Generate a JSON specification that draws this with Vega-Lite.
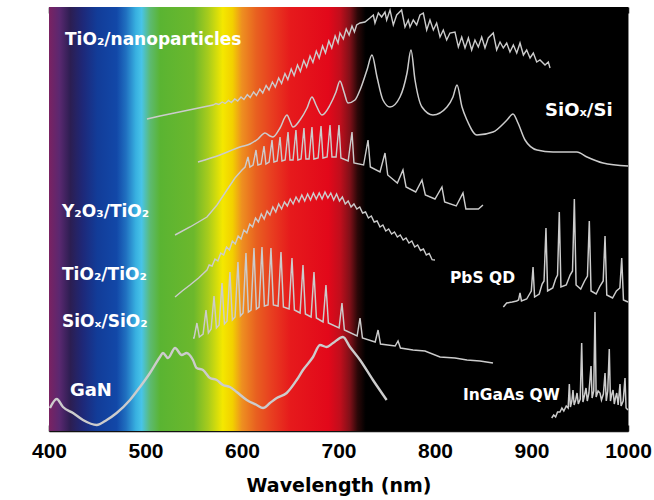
{
  "$schema": "https://vega.github.io/schema/vega-lite/v6.json",
  "width": 579,
  "height": 424,
  "autosize": {"type": "none"},
  "padding": {"left": 49, "top": 7, "right": 26, "bottom": 69},
  "background": "white",
  "config": {"view": {"stroke": "#888888", "strokeWidth": 1}},
  "datasets": {
    "traces": [
      {"s":"A","x":501.5,"y":312},{"s":"A","x":515,"y":315},{"s":"A","x":530,"y":318},{"s":"A","x":545,"y":321},{"s":"A","x":560,"y":324},{"s":"A","x":570,"y":326},
      {"s":"A","x":573,"y":327.5},{"s":"A","x":576,"y":326.5},{"s":"A","x":579.5,"y":329},{"s":"A","x":582.5,"y":327.5},{"s":"A","x":586,"y":330.5},{"s":"A","x":589,"y":328.5},{"s":"A","x":592.5,"y":332},{"s":"A","x":595.5,"y":330},{"s":"A","x":599,"y":334},{"s":"A","x":602,"y":331.5},{"s":"A","x":605.5,"y":336.5},{"s":"A","x":608.5,"y":333.5},{"s":"A","x":612,"y":339},{"s":"A","x":615,"y":335.5},{"s":"A","x":618.5,"y":342},{"s":"A","x":621.5,"y":338},{"s":"A","x":625,"y":345.5},{"s":"A","x":628,"y":341},{"s":"A","x":631.5,"y":349},{"s":"A","x":634.5,"y":344},{"s":"A","x":638,"y":353},{"s":"A","x":641,"y":347.5},{"s":"A","x":644.5,"y":357.5},{"s":"A","x":647.5,"y":351.5},{"s":"A","x":651,"y":362},{"s":"A","x":654,"y":355.5},{"s":"A","x":657.5,"y":366},{"s":"A","x":660.5,"y":359.5},{"s":"A","x":664,"y":370.5},{"s":"A","x":667,"y":364},{"s":"A","x":670.5,"y":375},{"s":"A","x":673.5,"y":368.5},{"s":"A","x":677,"y":380},{"s":"A","x":680,"y":373},{"s":"A","x":683.5,"y":385},{"s":"A","x":686.5,"y":378},{"s":"A","x":690,"y":390},{"s":"A","x":693,"y":383},{"s":"A","x":696.5,"y":395},{"s":"A","x":699.5,"y":388},
      {"s":"A","x":701.5,"y":398},{"s":"A","x":705,"y":392},{"s":"A","x":708,"y":402},{"s":"A","x":711,"y":396},{"s":"A","x":714,"y":405},{"s":"A","x":716.5,"y":399},{"s":"A","x":718.8,"y":406},{"s":"A","x":722.3,"y":408},{"s":"A","x":727.4,"y":409},{"s":"A","x":732.6,"y":413},{"s":"A","x":736.1,"y":416},{"s":"A","x":737.8,"y":408},{"s":"A","x":741.3,"y":418},{"s":"A","x":744.7,"y":414},{"s":"A","x":748.2,"y":419},{"s":"A","x":749.9,"y":411},{"s":"A","x":753.4,"y":421},{"s":"A","x":756.8,"y":406},{"s":"A","x":760.3,"y":416},{"s":"A","x":765.4,"y":421},{"s":"A","x":768.9,"y":404},{"s":"A","x":772.3,"y":411},{"s":"A","x":774.1,"y":404},{"s":"A","x":777.5,"y":411},{"s":"A","x":781,"y":406},{"s":"A","x":784.4,"y":416},{"s":"A","x":787.9,"y":418},{"s":"A","x":791.4,"y":401},{"s":"A","x":794.8,"y":411},{"s":"A","x":798.3,"y":401},{"s":"A","x":801.7,"y":408},{"s":"A","x":805.2,"y":394},{"s":"A","x":808.6,"y":401},{"s":"A","x":812.1,"y":391},{"s":"A","x":815.5,"y":398},{"s":"A","x":820.7,"y":399},{"s":"A","x":824.2,"y":384},{"s":"A","x":827.7,"y":394},{"s":"A","x":831.1,"y":383},{"s":"A","x":834.6,"y":393},{"s":"A","x":838,"y":381},{"s":"A","x":841.4,"y":391},{"s":"A","x":844.9,"y":384},{"s":"A","x":848.4,"y":394},{"s":"A","x":851.8,"y":383},{"s":"A","x":855.2,"y":393},{"s":"A","x":860.4,"y":398},{"s":"A","x":863.9,"y":381},{"s":"A","x":867.4,"y":389},{"s":"A","x":870.8,"y":383},{"s":"A","x":874.3,"y":388},{"s":"A","x":877.7,"y":379},{"s":"A","x":881.2,"y":386},{"s":"A","x":884.7,"y":378},{"s":"A","x":888.1,"y":388},{"s":"A","x":891.6,"y":376},{"s":"A","x":895,"y":381},{"s":"A","x":898.5,"y":373},{"s":"A","x":901.9,"y":378},{"s":"A","x":905.4,"y":369},{"s":"A","x":908.8,"y":371},{"s":"A","x":914,"y":366},{"s":"A","x":917.4,"y":369},{"s":"A","x":919.2,"y":363},

      {"s":"B","x":554.4,"y":269},{"s":"B","x":577.2,"y":276},{"s":"B","x":597.9,"y":284},{"s":"B","x":608.3,"y":287},{"s":"B","x":616.6,"y":292},{"s":"B","x":623.8,"y":298},{"s":"B","x":629,"y":295},{"s":"B","x":632.1,"y":294},{"s":"B","x":639.4,"y":303},{"s":"B","x":646.6,"y":316},{"s":"B","x":649.7,"y":310},{"s":"B","x":652.8,"y":304},{"s":"B","x":660.1,"y":311},{"s":"B","x":667.4,"y":323},{"s":"B","x":672.5,"y":334},{"s":"B","x":676.7,"y":326},{"s":"B","x":682.9,"y":316},{"s":"B","x":691.2,"y":326},{"s":"B","x":697.4,"y":339},{"s":"B","x":701.5,"y":350},{"s":"B","x":705.7,"y":339},{"s":"B","x":709.8,"y":328},{"s":"B","x":717.1,"y":331},{"s":"B","x":722.3,"y":341},{"s":"B","x":729.5,"y":361},{"s":"B","x":734.7,"y":376},{"s":"B","x":739.9,"y":354},{"s":"B","x":746.1,"y":331},{"s":"B","x":753.4,"y":324},{"s":"B","x":763.7,"y":334},{"s":"B","x":771,"y":358},{"s":"B","x":775.1,"y":381},{"s":"B","x":779.3,"y":351},{"s":"B","x":786.5,"y":324},{"s":"B","x":797.9,"y":316},{"s":"B","x":812.4,"y":324},{"s":"B","x":818.6,"y":334},{"s":"B","x":822.8,"y":346},{"s":"B","x":828,"y":324},{"s":"B","x":833.1,"y":311},{"s":"B","x":843.5,"y":296},{"s":"B","x":860.1,"y":299},{"s":"B","x":874.6,"y":311},{"s":"B","x":880.8,"y":317},{"s":"B","x":886,"y":308},{"s":"B","x":893.3,"y":291},{"s":"B","x":905.7,"y":281},{"s":"B","x":922.3,"y":279},{"s":"B","x":947.1,"y":279},{"s":"B","x":957.5,"y":274},{"s":"B","x":974.1,"y":268},{"s":"B","x":1000,"y":265},

      {"s":"C","x":530.6,"y":196},{"s":"C","x":546.1,"y":204},{"s":"C","x":563.7,"y":214},{"s":"C","x":574.1,"y":226},{"s":"C","x":584.4,"y":241},{"s":"C","x":592.7,"y":253},{"s":"C","x":600,"y":261},
      {"s":"C","x":603.2,"y":264},{"s":"C","x":606.2,"y":274},{"s":"C","x":608.2,"y":264},
      {"s":"C","x":611.5,"y":266},{"s":"C","x":614.5,"y":281},{"s":"C","x":616.5,"y":266},
      {"s":"C","x":619.8,"y":267},{"s":"C","x":622.8,"y":285},{"s":"C","x":624.8,"y":267},
      {"s":"C","x":628.1,"y":269},{"s":"C","x":631.1,"y":291},{"s":"C","x":633.1,"y":269},
      {"s":"C","x":636.4,"y":270},{"s":"C","x":639.4,"y":294},{"s":"C","x":641.4,"y":270},
      {"s":"C","x":644.7,"y":271},{"s":"C","x":647.7,"y":299},{"s":"C","x":649.7,"y":271},
      {"s":"C","x":652.9,"y":271},{"s":"C","x":655.9,"y":301},{"s":"C","x":657.9,"y":271},
      {"s":"C","x":661.2,"y":272},{"s":"C","x":664.2,"y":303},{"s":"C","x":666.2,"y":272},
      {"s":"C","x":669.5,"y":272},{"s":"C","x":672.5,"y":304},{"s":"C","x":674.5,"y":272},
      {"s":"C","x":678.9,"y":273},{"s":"C","x":681.9,"y":305},{"s":"C","x":683.9,"y":273},
      {"s":"C","x":688.2,"y":274},{"s":"C","x":691.2,"y":306},{"s":"C","x":693.2,"y":274},
      {"s":"C","x":697.5,"y":274},{"s":"C","x":700.5,"y":306},{"s":"C","x":702.5,"y":273},
      {"s":"C","x":710,"y":270},{"s":"C","x":714,"y":299},{"s":"C","x":716,"y":268},
      {"s":"C","x":726,"y":266},{"s":"C","x":730.6,"y":291},{"s":"C","x":733,"y":264},
      {"s":"C","x":743,"y":259},{"s":"C","x":748.2,"y":278},{"s":"C","x":751,"y":256},
      {"s":"C","x":761,"y":248},{"s":"C","x":766.8,"y":261},{"s":"C","x":770,"y":244},
      {"s":"C","x":780,"y":239},{"s":"C","x":786.5,"y":251},{"s":"C","x":790,"y":236},
      {"s":"C","x":800,"y":232},{"s":"C","x":807.2,"y":244},{"s":"C","x":810,"y":229},
      {"s":"C","x":822,"y":225},{"s":"C","x":829,"y":238},{"s":"C","x":832,"y":222},
      {"s":"C","x":845,"y":222},{"s":"C","x":849.7,"y":226},

      {"s":"D","x":530.6,"y":134},{"s":"D","x":538,"y":140},{"s":"D","x":546.1,"y":146},{"s":"D","x":555,"y":153},{"s":"D","x":563.7,"y":161},
      {"s":"D","x":566,"y":166},{"s":"D","x":569,"y":165},{"s":"D","x":572,"y":172},{"s":"D","x":575,"y":170},{"s":"D","x":578,"y":178},{"s":"D","x":581,"y":176},{"s":"D","x":584,"y":184},{"s":"D","x":587,"y":181},{"s":"D","x":590,"y":190},{"s":"D","x":593,"y":187},{"s":"D","x":596,"y":195},{"s":"D","x":599,"y":192},{"s":"D","x":602,"y":201},{"s":"D","x":605,"y":198},{"s":"D","x":608,"y":207},{"s":"D","x":611,"y":204},{"s":"D","x":614,"y":213},{"s":"D","x":617,"y":209},{"s":"D","x":620,"y":217},{"s":"D","x":623,"y":212},{"s":"D","x":626,"y":220},{"s":"D","x":629,"y":216},{"s":"D","x":632,"y":224},{"s":"D","x":635,"y":219},{"s":"D","x":638,"y":227},{"s":"D","x":641,"y":222},{"s":"D","x":644,"y":229},{"s":"D","x":647,"y":225},{"s":"D","x":650,"y":232},{"s":"D","x":653,"y":227},{"s":"D","x":656,"y":234},{"s":"D","x":659,"y":229},{"s":"D","x":662,"y":236},{"s":"D","x":665,"y":230},{"s":"D","x":668,"y":237},{"s":"D","x":671,"y":231},{"s":"D","x":674,"y":238},{"s":"D","x":677,"y":232},{"s":"D","x":680,"y":238},{"s":"D","x":683,"y":232},{"s":"D","x":686,"y":239},{"s":"D","x":689,"y":233},{"s":"D","x":692,"y":238},{"s":"D","x":695,"y":231},{"s":"D","x":698,"y":237},{"s":"D","x":701,"y":230},{"s":"D","x":704,"y":234},{"s":"D","x":707,"y":227},{"s":"D","x":710,"y":230},{"s":"D","x":713,"y":224},{"s":"D","x":716,"y":227},{"s":"D","x":719,"y":222},{"s":"D","x":722,"y":224},{"s":"D","x":725,"y":218},{"s":"D","x":728,"y":219},{"s":"D","x":731,"y":213},{"s":"D","x":734,"y":215},{"s":"D","x":737,"y":209},{"s":"D","x":740,"y":210},{"s":"D","x":743,"y":204},{"s":"D","x":746,"y":206},{"s":"D","x":749,"y":200},{"s":"D","x":752,"y":202},{"s":"D","x":755,"y":197},{"s":"D","x":758,"y":199},{"s":"D","x":761,"y":194},{"s":"D","x":764,"y":196},{"s":"D","x":767,"y":191},{"s":"D","x":770,"y":193},{"s":"D","x":773,"y":188},{"s":"D","x":776,"y":190},{"s":"D","x":779,"y":184},{"s":"D","x":782,"y":186},{"s":"D","x":785,"y":180.5},{"s":"D","x":788,"y":182},{"s":"D","x":791,"y":176},{"s":"D","x":794,"y":177.6},{"s":"D","x":797,"y":171.3},{"s":"D","x":800,"y":171},

      {"s":"E","x":549.2,"y":93},
      {"s":"E","x":550.3,"y":93},{"s":"E","x":553.3,"y":108},{"s":"E","x":555.8,"y":94},
      {"s":"E","x":559.7,"y":97},{"s":"E","x":562.7,"y":121},{"s":"E","x":565.2,"y":98},
      {"s":"E","x":568,"y":102},{"s":"E","x":571,"y":135},{"s":"E","x":573.5,"y":103},
      {"s":"E","x":576.3,"y":106},{"s":"E","x":579.3,"y":148},{"s":"E","x":581.8,"y":107},
      {"s":"E","x":584.5,"y":110},{"s":"E","x":587.5,"y":159},{"s":"E","x":590,"y":111},
      {"s":"E","x":592.8,"y":114},{"s":"E","x":595.8,"y":169},{"s":"E","x":598.3,"y":115},
      {"s":"E","x":601.1,"y":118},{"s":"E","x":604.1,"y":178},{"s":"E","x":606.6,"y":119},
      {"s":"E","x":609.4,"y":121},{"s":"E","x":612.4,"y":183},{"s":"E","x":614.9,"y":122},
      {"s":"E","x":617.7,"y":124},{"s":"E","x":620.7,"y":184},{"s":"E","x":623.2,"y":125},
      {"s":"E","x":627,"y":126},{"s":"E","x":630,"y":183},{"s":"E","x":632.5,"y":126},
      {"s":"E","x":637.4,"y":125},{"s":"E","x":640.4,"y":179},{"s":"E","x":642.9,"y":124},
      {"s":"E","x":648.8,"y":122},{"s":"E","x":651.8,"y":173},{"s":"E","x":654.3,"y":121},
      {"s":"E","x":660.2,"y":118},{"s":"E","x":663.2,"y":166},{"s":"E","x":665.7,"y":117},
      {"s":"E","x":671.6,"y":114},{"s":"E","x":674.6,"y":159},{"s":"E","x":677.1,"y":113},
      {"s":"E","x":684,"y":109},{"s":"E","x":687,"y":146},{"s":"E","x":689.5,"y":108},
      {"s":"E","x":700.6,"y":103},{"s":"E","x":703.6,"y":128},{"s":"E","x":706.1,"y":101},
      {"s":"E","x":719.3,"y":95},{"s":"E","x":722.3,"y":113},{"s":"E","x":724.8,"y":93},
      {"s":"E","x":738,"y":89},{"s":"E","x":741,"y":101},{"s":"E","x":743.5,"y":87},
      {"s":"E","x":758.7,"y":85},{"s":"E","x":761.7,"y":90},{"s":"E","x":764.2,"y":83},
      {"s":"E","x":777.2,"y":81},{"s":"E","x":789.6,"y":80},{"s":"E","x":805.2,"y":74},{"s":"E","x":820.7,"y":73},{"s":"E","x":833.1,"y":71},{"s":"E","x":846.6,"y":70},{"s":"E","x":860.1,"y":68},

      {"s":"F","x":401,"y":23},{"s":"F","x":408,"y":32},{"s":"F","x":414.5,"y":24},{"s":"F","x":424.9,"y":18},{"s":"F","x":435.2,"y":11},{"s":"F","x":449.4,"y":6},{"s":"F","x":459.8,"y":11},{"s":"F","x":470.1,"y":18},{"s":"F","x":483.9,"y":31},{"s":"F","x":494.3,"y":44},{"s":"F","x":504.6,"y":58},{"s":"F","x":515,"y":74},{"s":"F","x":518.1,"y":78},{"s":"F","x":523.3,"y":73},{"s":"F","x":530.6,"y":83},{"s":"F","x":537.5,"y":76},{"s":"F","x":542.7,"y":78},{"s":"F","x":549.2,"y":71},{"s":"F","x":553,"y":63},{"s":"F","x":559.6,"y":61},{"s":"F","x":566.8,"y":53},{"s":"F","x":573.8,"y":51},{"s":"F","x":580.3,"y":46},{"s":"F","x":587.5,"y":44},{"s":"F","x":594.5,"y":39},{"s":"F","x":604.9,"y":31},{"s":"F","x":615.2,"y":26},{"s":"F","x":621.8,"y":23},{"s":"F","x":629,"y":28},{"s":"F","x":636,"y":33},{"s":"F","x":646.3,"y":38},{"s":"F","x":656.7,"y":51},{"s":"F","x":663.2,"y":61},{"s":"F","x":673.6,"y":74},{"s":"F","x":680.8,"y":86},{"s":"F","x":687.8,"y":84},{"s":"F","x":694.3,"y":88},{"s":"F","x":704.6,"y":94},{"s":"F","x":711.9,"y":84},{"s":"F","x":722.3,"y":71},{"s":"F","x":735.7,"y":51},{"s":"F","x":749.9,"y":31},

      {"s":"G","x":870.8,"y":124},{"s":"G","x":874.3,"y":128},{"s":"G","x":880,"y":129},{"s":"G","x":884.6,"y":130},{"s":"G","x":886.6,"y":131},{"s":"G","x":888.1,"y":138},{"s":"G","x":889.6,"y":130},{"s":"G","x":895,"y":132},{"s":"G","x":898,"y":137},{"s":"G","x":899.8,"y":140},{"s":"G","x":901.6,"y":164},{"s":"G","x":903.2,"y":134},{"s":"G","x":908,"y":137},{"s":"G","x":911,"y":147},{"s":"G","x":913,"y":150},{"s":"G","x":915,"y":203},{"s":"G","x":916.7,"y":140},{"s":"G","x":922,"y":143},{"s":"G","x":925,"y":152},{"s":"G","x":927,"y":156},{"s":"G","x":928.8,"y":219},{"s":"G","x":930.5,"y":144},{"s":"G","x":936,"y":146},{"s":"G","x":940,"y":156},{"s":"G","x":942.5,"y":160},{"s":"G","x":944.4,"y":232},{"s":"G","x":946.2,"y":146},{"s":"G","x":951,"y":142},{"s":"G","x":955,"y":150},{"s":"G","x":958,"y":155},{"s":"G","x":959.9,"y":210},{"s":"G","x":961.7,"y":140},{"s":"G","x":967,"y":137},{"s":"G","x":971,"y":145},{"s":"G","x":974.3,"y":150},{"s":"G","x":976.2,"y":195},{"s":"G","x":978,"y":136},{"s":"G","x":984,"y":133},{"s":"G","x":988,"y":140},{"s":"G","x":991.6,"y":143},{"s":"G","x":993.5,"y":173},{"s":"G","x":995.3,"y":131},{"s":"G","x":1000,"y":129},

      {"s":"H","x":920.9,"y":13},{"s":"H","x":923,"y":16},{"s":"H","x":925,"y":14},{"s":"H","x":927,"y":19},{"s":"H","x":929.5,"y":19},{"s":"H","x":931.5,"y":23},{"s":"H","x":933.5,"y":20},{"s":"H","x":936,"y":25},{"s":"H","x":938,"y":23},{"s":"H","x":939.2,"y":47},{"s":"H","x":940.3,"y":24},{"s":"H","x":941.8,"y":30},{"s":"H","x":943,"y":41},{"s":"H","x":944.2,"y":26},{"s":"H","x":945.8,"y":31},{"s":"H","x":947.2,"y":38},{"s":"H","x":948.5,"y":27},{"s":"H","x":950.5,"y":32},{"s":"H","x":952,"y":88},{"s":"H","x":953.3,"y":29},{"s":"H","x":955,"y":36},{"s":"H","x":956.5,"y":43},{"s":"H","x":957.8,"y":30},{"s":"H","x":959.5,"y":38},{"s":"H","x":961.7,"y":65},{"s":"H","x":962.8,"y":33},{"s":"H","x":964.5,"y":40},{"s":"H","x":965.8,"y":119},{"s":"H","x":967,"y":34},{"s":"H","x":969,"y":40},{"s":"H","x":971,"y":38},{"s":"H","x":972.5,"y":31},{"s":"H","x":974.5,"y":37},{"s":"H","x":976.2,"y":58},{"s":"H","x":977.5,"y":30},{"s":"H","x":979,"y":40},{"s":"H","x":980.6,"y":82},{"s":"H","x":981.8,"y":30},{"s":"H","x":983,"y":36},{"s":"H","x":984.5,"y":41},{"s":"H","x":985.8,"y":27},{"s":"H","x":987,"y":33},{"s":"H","x":988.3,"y":38},{"s":"H","x":989.8,"y":26},{"s":"H","x":991.7,"y":47},{"s":"H","x":992.8,"y":25},{"s":"H","x":995,"y":30},{"s":"H","x":996.9,"y":53},{"s":"H","x":998,"y":23},{"s":"H","x":1000,"y":21}
    ]
  },
  "layer": [
    {
      "data": {"values": [{"lo": 400, "hi": 1000}]},
      "mark": {
        "type": "rect",
        "color": {
          "gradient": "linear", "x1": 0, "x2": 1, "y1": 0, "y2": 0,
          "stops": [
            {"offset": 0.0, "color": "#7a2262"},
            {"offset": 0.018, "color": "#5a2870"},
            {"offset": 0.037, "color": "#2c1e52"},
            {"offset": 0.058, "color": "#1e2878"},
            {"offset": 0.083, "color": "#123c98"},
            {"offset": 0.117, "color": "#1248a8"},
            {"offset": 0.133, "color": "#2070c0"},
            {"offset": 0.15, "color": "#38b0e0"},
            {"offset": 0.16, "color": "#48c4e8"},
            {"offset": 0.175, "color": "#5cba70"},
            {"offset": 0.192, "color": "#5ab432"},
            {"offset": 0.25, "color": "#6cb82c"},
            {"offset": 0.275, "color": "#a8cc1c"},
            {"offset": 0.3, "color": "#f4e800"},
            {"offset": 0.317, "color": "#f2d000"},
            {"offset": 0.333, "color": "#ee9020"},
            {"offset": 0.358, "color": "#e86020"},
            {"offset": 0.383, "color": "#e84020"},
            {"offset": 0.417, "color": "#e61a1c"},
            {"offset": 0.483, "color": "#e2081a"},
            {"offset": 0.503, "color": "#c00e1c"},
            {"offset": 0.52, "color": "#7e1018"},
            {"offset": 0.533, "color": "#2a0808"},
            {"offset": 0.547, "color": "#000000"},
            {"offset": 1.0, "color": "#000000"}
          ]
        }
      },
      "encoding": {
        "x": {
          "field": "lo", "type": "quantitative",
          "scale": {"domain": [400, 1000], "nice": false, "zero": false},
          "axis": {
            "orient": "top", "values": [400,450,500,550,600,650,700,750,800,850,900,950,1000],
            "labels": false, "title": null, "domain": false, "grid": false,
            "tickSize": -6, "tickColor": "#111111", "tickWidth": 1.5
          }
        },
        "x2": {"field": "hi"}
      }
    },
    {
      "data": {"name": "traces"},
      "transform": [{"filter": "datum.s !== 'B' && datum.s !== 'F'"}],
      "mark": {"type": "line", "color": "#cccccc", "interpolate": "linear"},
      "encoding": {
        "x": {
          "field": "x", "type": "quantitative",
          "scale": {"domain": [400, 1000], "nice": false, "zero": false},
          "axis": {
            "orient": "bottom", "values": [400,450,500,550,600,650,700,750,800,850,900,950,1000],
            "labelExpr": "datum.value % 100 === 0 ? datum.label : ''",
            "format": "d",
            "title": "Wavelength (nm)", "grid": false,
            "tickSize": -6, "tickColor": "#111111", "tickWidth": 1.5,
            "domainColor": "#111111", "domainWidth": 1.5,
            "labelFont": "Liberation Sans", "labelFontSize": 21, "labelFontWeight": "bold", "labelColor": "#000000",
            "labelPadding": 15, "labelOverlap": false, "labelFlush": false,
            "titleFont": "DejaVu Sans", "titleFontSize": 19, "titleFontWeight": "bold", "titleColor": "#000000",
            "titlePadding": 15
          }
        },
        "y": {
          "field": "y", "type": "quantitative",
          "scale": {"domain": [0, 424], "nice": false, "zero": false},
          "axis": {
            "values": [5,35,65,96,126,157,187,217,247,278,309,339,369,399],
            "labels": false, "grid": false,
            "title": "Intenstiy (arb. units)",
            "tickSize": -6, "tickColor": "#111111", "tickWidth": 1.5,
            "domainColor": "#111111", "domainWidth": 1.5,
            "titleFont": "DejaVu Sans", "titleFontSize": 20, "titleFontWeight": "bold", "titleColor": "#000000",
            "titlePadding": 17
          }
        },
        "detail": {"field": "s", "type": "nominal"},
        "strokeWidth": {
          "field": "s", "type": "nominal", "legend": null,
          "scale": {"domain": ["A","C","D","E","G","H"], "range": [1.4,1.5,2.2,1.3,1.3,1.2]}
        }
      }
    },
    {
      "data": {"name": "traces"},
      "transform": [{"filter": "datum.s === 'B' || datum.s === 'F'"}],
      "mark": {"type": "line", "color": "#cccccc", "interpolate": "monotone"},
      "encoding": {
        "x": {"field": "x", "type": "quantitative", "axis": null},
        "y": {"field": "y", "type": "quantitative", "axis": null},
        "detail": {"field": "s", "type": "nominal"},
        "strokeWidth": {
          "field": "s", "type": "nominal", "legend": null,
          "scale": {"domain": ["B","F"], "range": [1.5,2.4]}
        }
      }
    },
    {
      "data": {"values": [
        {"x": 416.6, "y": 391, "t": "TiO₂/nanoparticles"},
        {"x": 413.5, "y": 219, "t": "Y₂O₃/TiO₂"},
        {"x": 413.5, "y": 156, "t": "TiO₂/TiO₂"},
        {"x": 413.5, "y": 109, "t": "SiOₓ/SiO₂"}
      ]},
      "mark": {"type": "text", "font": "DejaVu Sans", "fontWeight": "bold", "fontSize": 17, "color": "#ffffff", "align": "left", "baseline": "middle"},
      "encoding": {
        "x": {"field": "x", "type": "quantitative", "axis": null},
        "y": {"field": "y", "type": "quantitative", "axis": null},
        "text": {"field": "t"}
      }
    },
    {
      "data": {"values": [
        {"x": 421.7, "y": 40, "t": "GaN"},
        {"x": 914, "y": 320, "t": "SiOₓ/Si"}
      ]},
      "mark": {"type": "text", "font": "DejaVu Sans", "fontWeight": "bold", "fontSize": 18, "color": "#ffffff", "align": "left", "baseline": "middle"},
      "encoding": {
        "x": {"field": "x", "type": "quantitative", "axis": null},
        "y": {"field": "y", "type": "quantitative", "axis": null},
        "text": {"field": "t"}
      }
    },
    {
      "data": {"values": [
        {"x": 815.5, "y": 153, "t": "PbS QD"},
        {"x": 829, "y": 36, "t": "InGaAs QW"}
      ]},
      "mark": {"type": "text", "font": "DejaVu Sans", "fontWeight": "bold", "fontSize": 15.5, "color": "#ffffff", "align": "left", "baseline": "middle"},
      "encoding": {
        "x": {"field": "x", "type": "quantitative", "axis": null},
        "y": {"field": "y", "type": "quantitative", "axis": null},
        "text": {"field": "t"}
      }
    }
  ],
  "resolve": {"axis": {"x": "independent"}, "scale": {"x": "shared", "strokeWidth": "independent"}}
}
